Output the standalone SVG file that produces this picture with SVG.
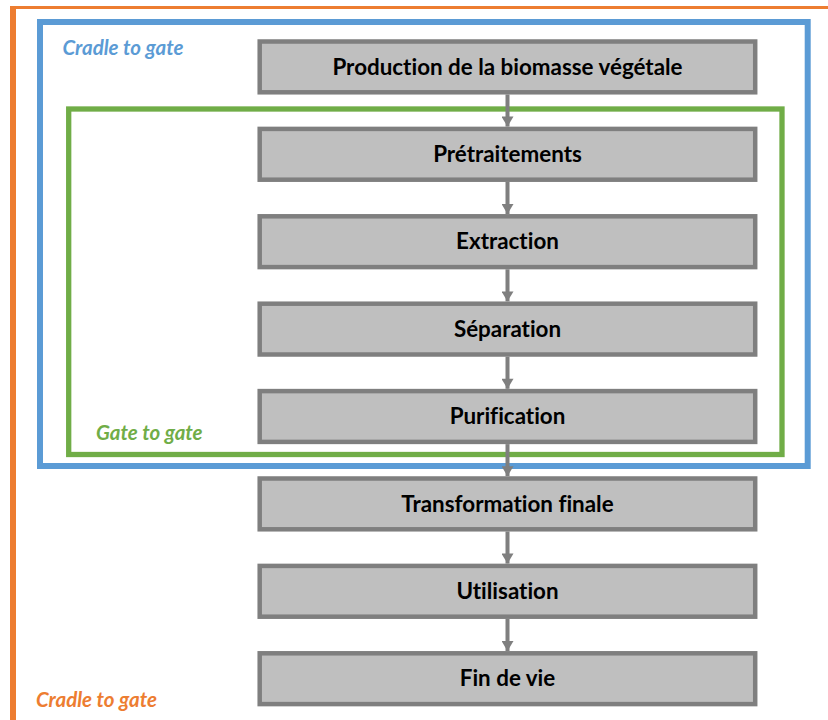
<svg xmlns="http://www.w3.org/2000/svg" width="828" height="720" viewBox="0 0 828 720">
<style>
.box{fill:#BFBFBF;stroke:#7F7F7F;stroke-width:4.5}
.lbl{font-family:Lato,"Liberation Sans",sans-serif;font-weight:bold;font-size:22.4px;fill:#000;text-anchor:middle;font-variant-ligatures:none}
.frame{font-family:Lato,"Liberation Sans",sans-serif;font-weight:bold;font-style:italic;font-size:20.5px}
.con{stroke:#7F7F7F;stroke-width:4;fill:none;marker-end:url(#ah)}
</style>
<defs>
<marker id="ah" markerUnits="userSpaceOnUse" markerWidth="12" markerHeight="12" viewBox="0 0 10 12" refX="10" refY="6" orient="auto">
<path d="M0,0 L10,6 L0,12 Z" fill="#7F7F7F"/>
</marker>
</defs>
<rect width="828" height="720" fill="#fff"/>
<g id="frame-orange">
<path d="M13,720 V7.5" stroke="#ED7D31" stroke-width="6" fill="none"/>
<path d="M10,7.5 H828" stroke="#ED7D31" stroke-width="3" fill="none"/>
<text class="frame" x="36" y="707" fill="#ED7D31">Cradle to gate</text>
</g>
<g id="frame-blue">
<rect x="40" y="22" width="767.7" height="444" fill="none" stroke="#5B9BD5" stroke-width="6"/>
<text class="frame" x="62.5" y="55" fill="#5B9BD5">Cradle to gate</text>
</g>
<g id="frame-green">
<rect x="68.7" y="109" width="713.3" height="345.5" fill="none" stroke="#70AD47" stroke-width="5.3"/>
<text class="frame" x="96" y="440" fill="#70AD47">Gate to gate</text>
</g>
<g id="connectors">
<path class="con" d="M507.5,94.5 V126.6"/>
<path class="con" d="M507.5,181.9 V214"/>
<path class="con" d="M507.5,269.3 V301.4"/>
<path class="con" d="M507.5,356.7 V388.8"/>
<path class="con" d="M507.5,444.1 V476.2"/>
<path class="con" d="M507.5,531.5 V563.6"/>
<path class="con" d="M507.5,618.9 V651"/>
</g>
<g id="n1"><rect class="box" x="259.7" y="41.5" width="495.5" height="50.8"/><text class="lbl" x="507.5" y="74.6">Production de la biomasse végétale</text></g>
<g id="n2"><rect class="box" x="259.7" y="128.9" width="495.5" height="50.8"/><text class="lbl" x="507.5" y="162">Prétraitements</text></g>
<g id="n3"><rect class="box" x="259.7" y="216.3" width="495.5" height="50.8"/><text class="lbl" x="507.5" y="249.4">Extraction</text></g>
<g id="n4"><rect class="box" x="259.7" y="303.7" width="495.5" height="50.8"/><text class="lbl" x="507.5" y="336.8">Séparation</text></g>
<g id="n5"><rect class="box" x="259.7" y="391.1" width="495.5" height="50.8"/><text class="lbl" x="507.5" y="424.2">Purification</text></g>
<g id="n6"><rect class="box" x="259.7" y="478.5" width="495.5" height="50.8"/><text class="lbl" x="507.5" y="511.6">Transformation finale</text></g>
<g id="n7"><rect class="box" x="259.7" y="565.9" width="495.5" height="50.8"/><text class="lbl" x="507.5" y="599">Utilisation</text></g>
<g id="n8"><rect class="box" x="259.7" y="653.3" width="495.5" height="50.8"/><text class="lbl" x="507.5" y="686.4">Fin de vie</text></g>
</svg>
